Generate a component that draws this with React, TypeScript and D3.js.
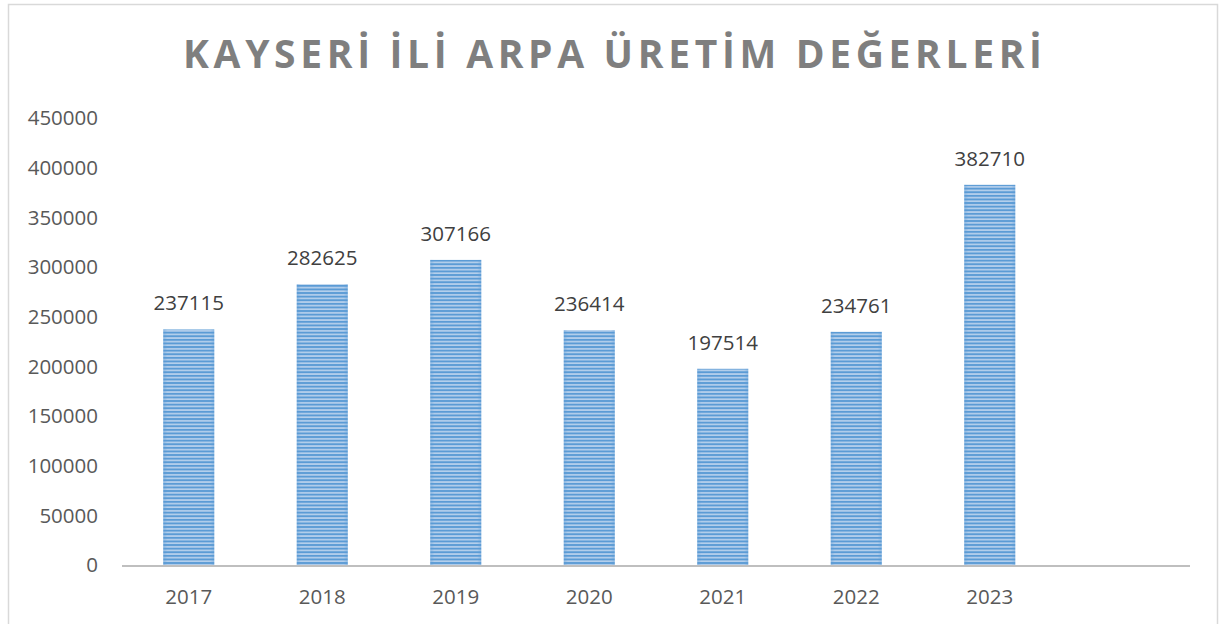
import React from "react";
import * as d3 from "d3";

const title = "KAYSERİ İLİ ARPA ÜRETİM DEĞERLERİ";
const years = ["2017", "2018", "2019", "2020", "2021", "2022", "2023", ""];
const values = [237115, 282625, 307166, 236414, 197514, 234761, 382710];
const yTicks = [0, 50000, 100000, 150000, 200000, 250000, 300000, 350000, 400000, 450000];

const W = 1219;
const H = 624;

export default function App() {
  const x = d3.scaleBand<string>().domain(years).range([122, 1190]).paddingInner(0.618).paddingOuter(0.309);
  const y = d3.scaleLinear().domain([0, 450000]).range([565, 118]);
  const font = "'Open Sans', 'Liberation Sans', sans-serif";
  return (
    <svg width={W} height={H} style={{ position: "absolute", left: 0, top: 0, display: "block" }}>
      <defs>
        <pattern id="stripes" patternUnits="userSpaceOnUse" width={8} height={3.6} x={0} y={0.5}>
          <rect x={0} y={0} width={8} height={3.6} fill="#b6d0ec" />
          <rect x={0} y={0} width={8} height={1.9} fill="#5b9bd5" />
        </pattern>
        <linearGradient id="edge" x1="0" x2="1" y1="0" y2="0">
          <stop offset="0" stopColor="#5b9bd5" stopOpacity={0.4} />
          <stop offset="0.08" stopColor="#5b9bd5" stopOpacity={0} />
          <stop offset="0.92" stopColor="#5b9bd5" stopOpacity={0} />
          <stop offset="1" stopColor="#5b9bd5" stopOpacity={0.4} />
        </linearGradient>
      </defs>
      <rect x={0} y={0} width={W} height={H} fill="#ffffff" />
      <rect x={8.5} y={4.5} width={1209} height={660} fill="none" stroke="#d9d9d9" strokeWidth={1.5} />
      <text
        x={183}
        y={68}
        textLength={859}
        lengthAdjust="spacing"
        fontFamily={font}
        fontWeight={700}
        fontSize={39}
        fill="#7f7f7f"
      >
        {title}
      </text>
      {yTicks.map((t) => (
        <text key={t} x={98} y={y(t)} dy="0.36em" textAnchor="end" fontFamily={font} fontSize={20.5} fill="#595959">
          {t}
        </text>
      ))}
      {values.map((v, i) => {
        const bx = x(years[i])!;
        const bw = x.bandwidth();
        return (
          <g key={years[i]}>
            <rect x={bx} y={y(v)} width={bw} height={y(0) - y(v)} fill="url(#stripes)" />
            <rect x={bx} y={y(v)} width={bw} height={y(0) - y(v)} fill="url(#edge)" />
            <text x={bx + bw / 2} y={y(v) - 19} textAnchor="middle" fontFamily={font} fontSize={20.5} fill="#404040">
              {v}
            </text>
          </g>
        );
      })}
      <line x1={122} x2={1190} y1={566} y2={566} stroke="#bfbfbf" strokeWidth={2.2} />
      {years.filter((d) => d).map((d) => (
        <text key={d} x={x(d)! + x.bandwidth() / 2} y={604} textAnchor="middle" fontFamily={font} fontSize={20.5} fill="#595959">
          {d}
        </text>
      ))}
    </svg>
  );
}
